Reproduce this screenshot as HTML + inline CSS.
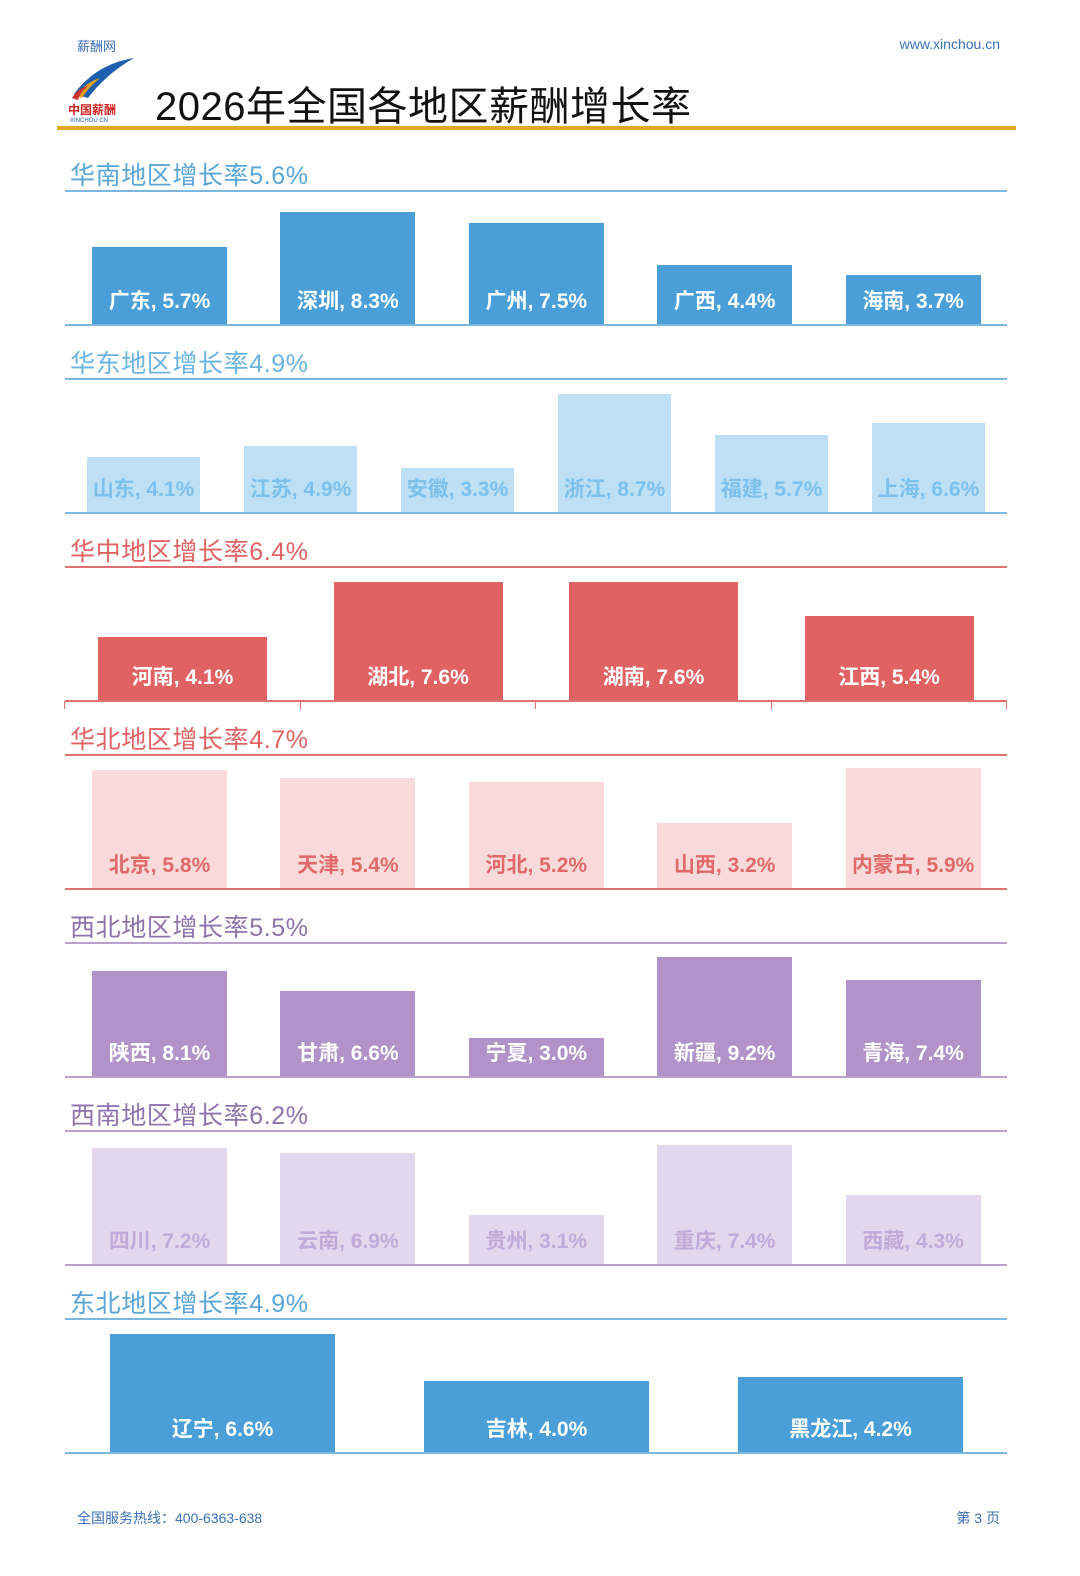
<!DOCTYPE html>
<html><head><meta charset="utf-8">
<style>
body{margin:0;background:#fff;width:1080px;height:1576px;position:relative;overflow:hidden;font-family:"Liberation Sans","Noto Sans CJK SC",sans-serif}
.abs{position:absolute}
</style></head>
<body>
<div class="abs" style="left:77px;top:36px;font-size:13px;color:#3b6fb6">薪酬网</div>
<div class="abs" style="right:80px;top:36px;font-size:14px;color:#3b6fb6">www.xinchou.cn</div>
<svg class="abs" style="left:66px;top:54px" width="72" height="72" viewBox="0 0 72 72">
<path d="M8 40 Q30 10 68 4 Q40 20 22 44 Z" fill="#1f5fb0"/>
<path d="M10 42 Q20 28 34 24 Q22 34 16 44 Z" fill="#e0a020"/>
<path d="M6 44 Q12 34 22 32 Q14 38 12 46 Z" fill="#d03030"/>
<text x="2" y="60" font-size="12" font-weight="bold" fill="#d02020" font-family="Liberation Sans,Noto Sans CJK SC,sans-serif">中国薪酬</text>
<text x="4" y="68" font-size="6" fill="#1f5fb0" font-family="Liberation Sans,sans-serif">XINCHOU CN</text>
</svg>
<div class="abs" style="left:155px;top:74px;font-size:40px;color:#111;letter-spacing:0.5px">2026年全国各地区薪酬增长率</div>
<div class="abs" style="left:57px;top:126px;width:959px;height:4px;background:#e0a820"></div>
<div id="charts"></div>
<div class="abs" style="left:77px;top:1508px;font-size:14px;color:#3b6fb6">全国服务热线：400-6363-638</div>
<div class="abs" style="right:80px;top:1508px;font-size:14px;color:#3b6fb6">第 3 页</div>
<script>
const regionTitles=["华南地区增长率5.6%","华东地区增长率4.9%","华中地区增长率6.4%","华北地区增长率4.7%","西北地区增长率5.5%","西南地区增长率6.2%","东北地区增长率4.9%"];
const cats1=["广东","深圳","广州","广西","海南"];const vals1=[5.7,8.3,7.5,4.4,3.7];
const cats2=["山东","江苏","安徽","浙江","福建","上海"];const vals2=[4.1,4.9,3.3,8.7,5.7,6.6];
const cats3=["河南","湖北","湖南","江西"];const vals3=[4.1,7.6,7.6,5.4];
const cats4=["北京","天津","河北","山西","内蒙古"];const vals4=[5.8,5.4,5.2,3.2,5.9];
const cats5=["陕西","甘肃","宁夏","新疆","青海"];const vals5=[8.1,6.6,3.0,9.2,7.4];
const cats6=["四川","云南","贵州","重庆","西藏"];const vals6=[7.2,6.9,3.1,7.4,4.3];
const cats7=["辽宁","吉林","黑龙江"];const vals7=[6.6,4.0,4.2];
const cats=[cats1,cats2,cats3,cats4,cats5,cats6,cats7];
const vals=[vals1,vals2,vals3,vals4,vals5,vals6,vals7];
const styles=[
{bar:"#4a9fd8",title:"#5aa5d8",line:"#7ab8e0",lab:"#fff",bw:135,first:92,maxH:113},
{bar:"#bde0f5",title:"#6ab4e4",line:"#7ab8e0",lab:"#7cc0ec",bw:113,first:87,maxH:119},
{bar:"#e06262",title:"#e06262",line:"#e07070",lab:"#fff",bw:169,first:98,maxH:119,ticks:true},
{bar:"#f9dada",title:"#e06262",line:"#e07070",lab:"#e06a6a",bw:135,first:92,maxH:121},
{bar:"#b193c9",title:"#8e72ac",line:"#b8a0d0",lab:"#fff",bw:135,first:92,maxH:120},
{bar:"#e3d7ee",title:"#8e72ac",line:"#b8a0d0",lab:"#c0aad8",bw:135,first:92,maxH:120},
{bar:"#4a9fd8",title:"#5aa5d8",line:"#7ab8e0",lab:"#fff",bw:225,first:110,maxH:119}];
const root=document.getElementById('charts');
for(let s=0;s<7;s++){
  const top=190+s*188, base=top+135, st=styles[s];
  const c=cats[s], v=vals[s], n=c.length;
  const step=942/n, offset=st.first-65;
  const maxV=Math.max(...v);
  const yScale=x=>x/maxV*st.maxH;
  const t=document.createElement('div');
  
  
  t.className='abs';t.textContent=regionTitles[s];
  t.style.cssText=`left:70px;top:${top-34}px;font-size:25px;letter-spacing:0.6px;color:${st.title}`;
  root.appendChild(t);
  const l=document.createElement('div');
  
  
  l.className='abs';l.style.cssText=`left:65px;top:${top}px;width:942px;height:2px;background:${st.line}`;
  root.appendChild(l);
  for(let i=0;i<n;i++){
    const h=yScale(v[i]);
    const b=document.createElement('div');
    
    
    b.className='abs';
    b.style.cssText=`left:${65+offset+i*step}px;top:${base-h}px;width:${st.bw}px;height:${h}px;background:${st.bar}`;
    root.appendChild(b);
    const lb=document.createElement('div');
    
    
    lb.className='abs';lb.textContent=c[i]+', '+v[i].toFixed(1)+'%';
    lb.style.cssText=`left:${65+offset+i*step-20}px;width:${st.bw+40}px;text-align:center;top:${base-40}px;font-size:21px;font-weight:bold;color:${st.lab};white-space:nowrap`;
    root.appendChild(lb);
  }
  const bl=document.createElement('div');
  
  
  bl.className='abs';bl.style.cssText=`left:65px;top:${base-1}px;width:942px;height:2px;background:${st.line}`;
  root.appendChild(bl);
  if(st.ticks){for(let i=0;i<=n;i++){
    const tk=document.createElement('div');
    
    
    tk.className='abs';tk.style.cssText=`left:${65+i*step-1}px;top:${base}px;width:1px;height:8px;background:${st.line}`;
    root.appendChild(tk);}}
}
</script>
</body></html>
